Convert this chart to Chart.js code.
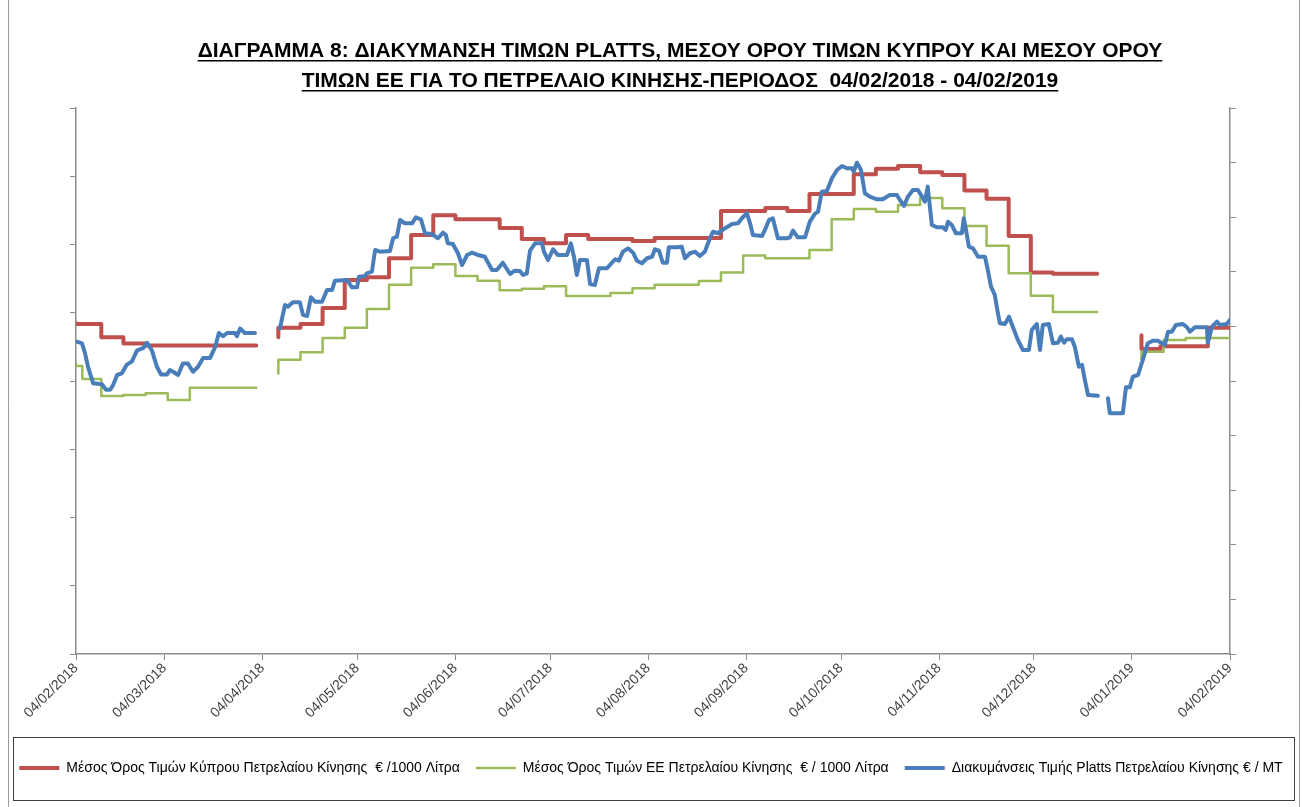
<!DOCTYPE html>
<html>
<head>
<meta charset="utf-8">
<script src="https://cdn.jsdelivr.net/npm/chart.js@4.4.1/dist/chart.umd.min.js"></script>
<style>
body { margin: 0; background: #fff; }
canvas { display: block; }
</style>
</head>
<body>
<canvas id="diagramma8" width="1302" height="807"></canvas>
<script>
// titles and legend names
var titleLines = [
    'ΔΙΑΓΡΑΜΜΑ 8: ΔΙΑΚΥΜΑΝΣΗ ΤΙΜΩΝ PLATTS, ΜΕΣΟΥ ΟΡΟΥ ΤΙΜΩΝ ΚΥΠΡΟΥ ΚΑΙ ΜΕΣΟΥ ΟΡΟΥ',
    'ΤΙΜΩΝ ΕΕ ΓΙΑ ΤΟ ΠΕΤΡΕΛΑΙΟ ΚΙΝΗΣΗΣ-ΠΕΡΙΟΔΟΣ  04/02/2018 - 04/02/2019'
];
var seriesNames = [
    'Μέσος Όρος Τιμών Κύπρου Πετρελαίου Κίνησης  € /1000 Λίτρα',
    'Μέσος Όρος Τιμών ΕΕ Πετρελαίου Κίνησης  € / 1000 Λίτρα',
    'Διακυμάνσεις Τιμής Platts Πετρελαίου Κίνησης € / MT'
];

// x axis: days counted from 04/02/2018
var tickDays = [0, 28, 59, 89, 120, 150, 181, 212, 242, 273, 303, 334, 365];
var tickLabels = ['04/02/2018', '04/03/2018', '04/04/2018', '04/05/2018', '04/06/2018', '04/07/2018',
    '04/08/2018', '04/09/2018', '04/10/2018', '04/11/2018', '04/12/2018', '04/01/2019', '04/02/2019'];

// Κύπρος (€/1000 λίτρα) - weekly steps
var cyDays = [0, 8, 15, 22, 29, 57, 60, 64, 71, 78, 85, 92, 99, 106, 113, 120, 134, 141, 148, 155,
    162, 176, 183, 204, 218, 225, 232, 246, 253, 260, 267, 274, 281, 288, 295, 302, 309, 316, 323, 330,
    337, 343, 358, 365];
var cyVals = [1085, 1083.5, 1064, 1055, 1052, 1052, null, 1064, 1078, 1083.5, 1107, 1148, 1152, 1180, 1214, 1243, 1237, 1224, 1208, 1202,
    1214, 1208, 1205, 1209.5, 1249, 1253.5, 1249, 1274, 1303, 1311, 1315, 1306, 1302, 1279, 1267, 1212.5, 1159, 1157, 1157, null,
    1067, 1047, 1051, 1078];

// ΕΕ (€/1000 λίτρα)
var euDays = [0, 2, 8, 15, 22, 29, 36, 50, 57, 60, 64, 71, 78, 85, 92, 99, 106, 113, 120, 127,
    134, 141, 148, 155, 169, 176, 183, 197, 204, 211, 218, 232, 239, 246, 253, 260, 267, 274, 281, 288,
    295, 302, 309, 316, 323, 330, 337, 344, 351, 365];
var euVals = [1026, 1022, 1003, 978, 979.5, 982, 972, 990, 990, null, 1011, 1031, 1042, 1063, 1078, 1105.5, 1141, 1166, 1171, 1154,
    1147, 1133, 1135, 1139, 1124.5, 1129, 1136, 1141, 1146.5, 1159, 1184, 1180, 1192, 1237, 1252, 1248, 1258, 1268, 1253, 1227,
    1198, 1158, 1125, 1101, 1101, null, 1032, 1043, 1060, 1063];

// Platts (€/MT) - secondary axis
var plattsDays = [0.3, 1.9, 2.8, 3.8, 5.4, 8.2, 9.5, 10.8, 11.7, 13, 14.5, 16.1, 17.7, 19.3, 21.2, 22.5, 24, 25.6, 26.9, 28.8,
    29.7, 30.7, 32.3, 33.8, 35.4, 37, 38.6, 40.2, 42.4, 44, 45.2, 46.5, 47.8, 50.3, 50.9, 51.9, 53.4, 56.6, 60,
    64.5, 66.1, 67, 68.6, 70.8, 71.8, 73.1, 74.3, 75.6, 77.8, 79.4, 81, 81.9, 85.7, 87.3, 88.9, 89.5, 91.4, 92, 93.6,
    94.6, 96.1, 99.3, 100.3, 101.5, 102.5, 104, 106.3, 107.5, 109.1, 110.4, 112.6, 114.5, 116.1, 117, 117.6, 119.2, 120.8, 122.1, 123.7,
    125.2, 127.1, 129.3, 131.6, 133.1, 135, 137.3, 138.8, 140.4, 141.4, 142.6, 143.6, 145.2, 147.4, 148, 149.3, 150.9, 152.4, 155.3, 156.5,
    157.5, 158.4, 159.4, 161.6, 162.6, 164.1, 165.4, 167.9, 169.5, 170.5, 171.7, 173, 174.6, 176.2, 177.4, 179, 180.6, 182.2, 183.1, 184.4,
    185.6, 186.9, 187.5, 190, 191.6, 192.6, 194.2, 195.8, 197.3, 198.9, 200.5, 201.5, 203, 205.3, 207.5, 209.4, 210.6, 212.2, 213.2, 214.1,
    217, 217.9, 219.2, 220.4, 222, 224.9, 225.8, 226.8, 228.3, 230.6, 232.1, 233.7, 234.7, 235.9, 237.5, 239.1, 240.7, 242.3, 243.8, 245.4,
    246, 247, 248.3, 249.5, 251.1, 253.3, 255.2, 257.4, 259.6, 260.6, 261.9, 263.1, 264.7, 266.3, 267.6, 268.5, 269.4, 270.7, 272.3, 274.2,
    275.1, 275.8, 277, 278.3, 280.2, 280.8, 281.5, 282.4, 283.7, 285.3, 287.5, 288.4, 289.4, 290.6, 291.6, 292.2, 293.8, 295.1, 296.3, 297.9,
    299.5, 301.4, 302.3, 303.9, 304.9, 305.8, 307.7, 309, 310.6, 311.5, 312.5, 313.4, 315, 315.9, 317.2, 318.2, 319.1, 320.1, 323.2, 325,
    326.4, 327, 331.1, 332.1, 333.3, 334.3, 335.9, 337.4, 339, 340.6, 342.2, 343.5, 344.4, 345.4, 346.6, 347.9, 350.1, 351.4, 352.3, 353.9,
    357.7, 358, 359.3, 360.9, 361.8, 364, 365];
var plattsVals = [486, 484.5, 476, 463, 448, 447, 442, 442, 446, 455.5, 457, 465, 468, 478, 480, 485, 478, 463, 456, 456,
    460, 458.5, 455.5, 466, 466, 458.5, 463, 471, 471, 481, 494, 491, 494, 494, 491, 498, 494, 494, null,
    498.3, 519.6, 518.1, 522.1, 522.1, 510.5, 509.5, 526.7, 522.6, 522.6, 533.4, 533.4, 541.9, 542.5, 535.8, 535.8, 545.5, 546.2, 548.6, 550.1,
    570, 568.4, 569.1, 580.7, 582.2, 597.5, 594.4, 594.4, 599.9, 598.1, 585.3, 584.6, 580.7, 585.8, 583.7, 576.1, 575.5, 567, 556.2, 565.4,
    567.5, 565.4, 563.8, 551.7, 551.7, 558.3, 548, 551, 550.7, 547.1, 548.6, 569.3, 576.1, 576.1, 568.4, 560.8, 570.6, 565.4, 565.4, 576.1,
    563.8, 547.1, 560.8, 560.8, 538.8, 537.9, 553.2, 553.2, 558.3, 561.5, 560.2, 568.4, 571.5, 567.5, 560.2, 557.8, 562.4, 563.8, 570.6, 569.3,
    558.3, 558.3, 572.5, 572.5, 573, 562.4, 567, 568.4, 564.5, 568.4, 580.7, 586.7, 585.3, 589.9, 593.8, 594.4, 599, 603.6, 594.4, 583.7,
    582.8, 588.3, 597.5, 599, 580.7, 580.7, 581.6, 587.7, 581.6, 581.6, 595.9, 603, 605.1, 623.4, 624, 635.6, 643.2, 646.9, 644.8, 644.8,
    641.7, 649.9, 643.2, 621.9, 618.8, 616.4, 616.4, 620.4, 620.4, 615.8, 610.3, 618.8, 624.9, 624.9, 618.8, 614.2, 628, 592.9, 590.8, 590.8,
    588.3, 595.9, 592.9, 585.3, 585.3, 599, 588.3, 573, 571.5, 563.8, 563.8, 551.7, 536.4, 528.8, 512, 502.9, 502.2, 508.9, 499.7, 487.6,
    478.4, 478.4, 496.7, 502.2, 478.4, 501.3, 502.2, 484.5, 485.1, 490.6, 485.1, 488.2, 488.2, 481.4, 463.1, 464.7, 450.9, 437.2, 436.5, null,
    434.2, 420.4, 420.4, 444.2, 444.2, 454, 455.5, 469.2, 484.5, 486.9, 486.9, 484.5, 483, 495.2, 495.2, 501.3, 502.2, 499.2, 495.2, 499.2,
    499.2, 485.1, 499.7, 504.3, 501.3, 502.2, 505.9];

function toPoints(days, vals) {
    return days.map(function (d, i) { return { x: d, y: vals[i] }; });
}

var axisGray = '#8c8c8c';
var fontFam = '"Liberation Sans", Arial, sans-serif';

// title with underline, outer frame, legend box
var decor = {
    id: 'decor',
    beforeDraw: function (chart) {
        var c = chart.ctx;
        c.save();
        c.fillStyle = '#fff';
        c.fillRect(0, 0, chart.width, chart.height);
        c.restore();
    },
    afterDraw: function (chart) {
        var c = chart.ctx;
        c.save();
        c.font = 'bold 21px ' + fontFam;
        c.fillStyle = '#000';
        c.textAlign = 'center';
        c.textBaseline = 'alphabetic';
        titleLines.forEach(function (t, i) {
            var y = 57 + i * 30;
            c.fillText(t, 680, y);
            var w = c.measureText(t).width;
            c.fillRect(680 - w / 2, y + 3, w, 1.5);
        });
        c.strokeStyle = '#9a9a9a';
        c.lineWidth = 1;
        c.beginPath();
        c.moveTo(8.5, 0); c.lineTo(8.5, chart.height);
        c.moveTo(1299.5, 0); c.lineTo(1299.5, chart.height);
        c.stroke();
        c.strokeStyle = '#404040';
        c.strokeRect(13.5, 737.5, 1281, 63);
        c.restore();
    }
};

var ctx = document.getElementById('diagramma8').getContext('2d');
var myChart = new Chart(ctx, {
    type: 'line',
    data: {
        datasets: [{
            label: seriesNames[0],
            data: toPoints(cyDays, cyVals),
            borderColor: 'rgb(192, 80, 77)',
            backgroundColor: 'rgb(192, 80, 77)',
            borderWidth: 4,
            stepped: 'after',
            yAxisID: 'y',
            order: 3
        }, {
            label: seriesNames[1],
            data: toPoints(euDays, euVals),
            borderColor: 'rgb(155, 187, 89)',
            backgroundColor: 'rgb(155, 187, 89)',
            borderWidth: 2.5,
            stepped: 'after',
            yAxisID: 'y',
            order: 2
        }, {
            label: seriesNames[2],
            data: toPoints(plattsDays, plattsVals),
            borderColor: 'rgb(74, 126, 187)',
            backgroundColor: 'rgb(74, 126, 187)',
            borderWidth: 4,
            yAxisID: 'y2',
            order: 1
        }]
    },
    options: {
        responsive: false,
        animation: false,
        events: [],
        spanGaps: false,
        elements: {
            point: { radius: 0 },
            line: { tension: 0, borderCapStyle: 'round', borderJoinStyle: 'round' }
        },
        layout: { padding: { top: 108, left: 0, right: 0, bottom: 22 } },
        scales: {
            x: {
                type: 'linear',
                min: 0,
                max: 365,
                afterBuildTicks: function (s) {
                    s.ticks = tickDays.map(function (d) { return { value: d }; });
                },
                afterFit: function (s) { s.height = 91; },
                ticks: {
                    autoSkip: false,
                    minRotation: 45,
                    maxRotation: 45,
                    padding: 0,
                    color: '#404040',
                    font: { family: fontFam, size: 14 },
                    callback: function (v, i) { return tickLabels[i]; }
                },
                grid: { drawOnChartArea: false, color: axisGray, tickLength: 6 },
                border: { color: axisGray, width: 1.5 }
            },
            y: {
                position: 'left',
                min: 600,
                max: 1400,
                ticks: { stepSize: 100, display: false },
                afterFit: function (s) { s.width = 76; },
                grid: { drawOnChartArea: false, color: axisGray, tickLength: 6 },
                border: { color: axisGray, width: 1.5 }
            },
            y2: {
                position: 'right',
                min: 200,
                max: 700,
                ticks: { stepSize: 50, display: false },
                afterFit: function (s) { s.width = 72; },
                grid: { drawOnChartArea: false, color: axisGray, tickLength: 6 },
                border: { color: axisGray, width: 1.5 }
            }
        },
        plugins: {
            title: { display: false },
            tooltip: { enabled: false },
            legend: {
                position: 'bottom',
                labels: {
                    usePointStyle: true,
                    pointStyle: 'line',
                    pointStyleWidth: 40,
                    padding: 16,
                    color: '#000',
                    font: { family: fontFam, size: 14 },
                    sort: function (a, b) { return a.datasetIndex - b.datasetIndex; }
                }
            }
        }
    },
    plugins: [decor]
});
</script>
</body>
</html>
